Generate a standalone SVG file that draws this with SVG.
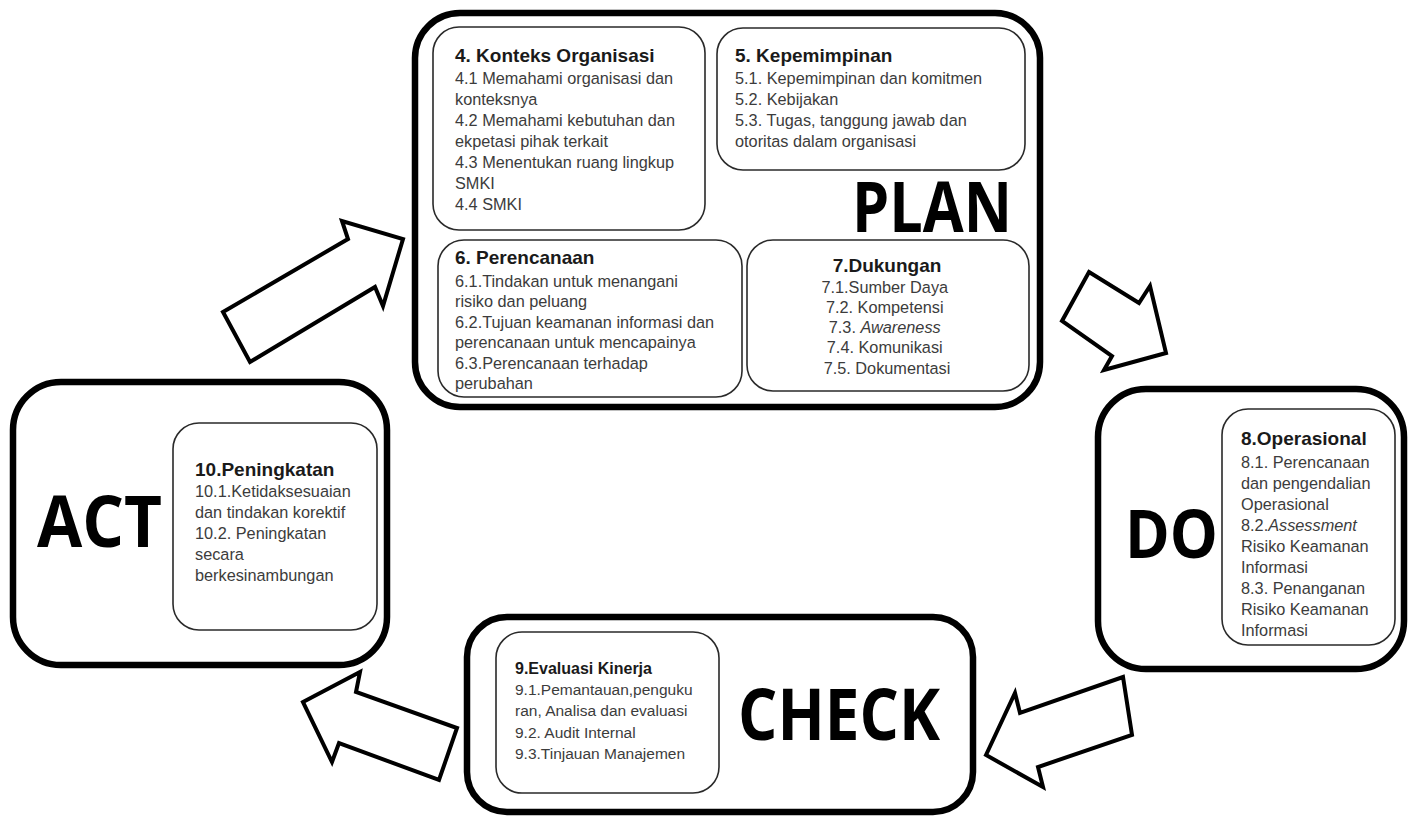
<svg xmlns="http://www.w3.org/2000/svg" width="1411" height="816" viewBox="0 0 1411 816">
  <style>
    .outer { fill: #ffffff; stroke: #000000; stroke-width: 6.5; }
    .inner { fill: #ffffff; stroke: #2a2a2a; stroke-width: 1.6; }
    .arrow { fill: #ffffff; stroke: #000000; stroke-width: 4; stroke-linejoin: miter; }
    .big { font-family: "Open Sans", "Liberation Sans", sans-serif; font-weight: 700; fill: #000000; }
    .title { font-family: "Liberation Sans", Arial, sans-serif; font-weight: 700; font-size: 19px; fill: #1a1a1a; }
    .body { font-family: "Liberation Sans", Arial, sans-serif; font-size: 16.3px; fill: #3c3c3c; }
    .small { font-size: 15.5px; }
    .smalltitle { font-size: 16px; }
    .it { font-style: italic; }
  </style>

  <rect width="1411" height="816" fill="#ffffff"/>

  <!-- cycle arrows -->
  <g id="connectors">
    <polygon class="arrow" points="223,312 348,239 342,221 403,239 383,306 375,287 250,362"/>
    <polygon class="arrow" points="1089,272 1139,303 1150,286 1166,353 1104,370 1112,356 1062,321"/>
    <polygon class="arrow" points="986,755 1015,693 1020,713 1123,677 1132,735 1038,767 1043,787"/>
    <polygon class="arrow" points="303,702 360,672 356,692 457,728 439,780 339,743 332,762"/>
  </g>

  <!-- PLAN -->
  <g id="plan">
    <rect class="outer" x="415" y="13" width="625" height="394" rx="45" ry="45"/>
    <text class="big" x="852" y="232" font-size="70" textLength="160" lengthAdjust="spacingAndGlyphs">PLAN</text>
  </g>

  <g id="konteks-organisasi">
    <rect class="inner" x="433" y="27" width="272" height="203" rx="26" ry="26"/>
    <text class="title" x="455" y="62" font-size="19.5">4. Konteks Organisasi</text>
    <text class="body">
      <tspan x="455" y="84">4.1 Memahami organisasi dan</tspan>
      <tspan x="455" y="105">konteksnya</tspan>
      <tspan x="455" y="126">4.2 Memahami kebutuhan dan</tspan>
      <tspan x="455" y="147">ekpetasi pihak terkait</tspan>
      <tspan x="455" y="168">4.3 Menentukan ruang lingkup</tspan>
      <tspan x="455" y="189">SMKI</tspan>
      <tspan x="455" y="210">4.4 SMKI</tspan>
    </text>
  </g>

  <g id="kepemimpinan">
    <rect class="inner" x="717" y="28" width="308" height="142" rx="26" ry="26"/>
    <text class="title" x="735" y="62" font-size="19.5">5. Kepemimpinan</text>
    <text class="body">
      <tspan x="735" y="84">5.1. Kepemimpinan dan komitmen</tspan>
      <tspan x="735" y="105">5.2. Kebijakan</tspan>
      <tspan x="735" y="126">5.3. Tugas, tanggung jawab dan</tspan>
      <tspan x="735" y="147">otoritas dalam organisasi</tspan>
    </text>
  </g>

  <g id="perencanaan">
    <rect class="inner" x="438" y="240" width="304" height="157" rx="26" ry="26"/>
    <text class="title" x="455" y="264">6. Perencanaan</text>
    <text class="body">
      <tspan x="455" y="287">6.1.Tindakan untuk menangani</tspan>
      <tspan x="455" y="307">risiko dan peluang</tspan>
      <tspan x="455" y="328">6.2.Tujuan keamanan informasi dan</tspan>
      <tspan x="455" y="348">perencanaan untuk mencapainya</tspan>
      <tspan x="455" y="369">6.3.Perencanaan terhadap</tspan>
      <tspan x="455" y="389">perubahan</tspan>
    </text>
  </g>

  <g id="dukungan">
    <rect class="inner" x="747" y="240" width="282" height="151" rx="26" ry="26"/>
    <text class="title" x="887" y="272" text-anchor="middle">7.Dukungan</text>
    <text class="body" text-anchor="middle">
      <tspan x="887" y="293">7.1.Sumber Daya</tspan>
      <tspan x="887" y="313">7.2. Kompetensi</tspan>
      <tspan x="887" y="333">7.3. <tspan class="it">Awareness</tspan></tspan>
      <tspan x="887" y="353">7.4. Komunikasi</tspan>
      <tspan x="887" y="374">7.5. Dokumentasi</tspan>
    </text>
  </g>

  <!-- DO -->
  <g id="do">
    <rect class="outer" x="1098" y="389" width="306" height="280" rx="48" ry="48"/>
    <text class="big" x="1125" y="558" font-size="66" textLength="93" lengthAdjust="spacingAndGlyphs">DO</text>
  </g>

  <g id="operasional">
    <rect class="inner" x="1222" y="409" width="173" height="236" rx="26" ry="26"/>
    <text class="title" x="1241" y="445">8.Operasional</text>
    <text class="body">
      <tspan x="1241" y="468">8.1. Perencanaan</tspan>
      <tspan x="1241" y="489">dan pengendalian</tspan>
      <tspan x="1241" y="510">Operasional</tspan>
      <tspan x="1241" y="531">8.2.<tspan class="it">Assessment</tspan></tspan>
      <tspan x="1241" y="552">Risiko Keamanan</tspan>
      <tspan x="1241" y="573">Informasi</tspan>
      <tspan x="1241" y="594">8.3. Penanganan</tspan>
      <tspan x="1241" y="615">Risiko Keamanan</tspan>
      <tspan x="1241" y="636">Informasi</tspan>
    </text>
  </g>

  <!-- CHECK -->
  <g id="check">
    <rect class="outer" x="467" y="617" width="506" height="195" rx="40" ry="40"/>
    <text class="big" x="738" y="740" font-size="72" textLength="202" lengthAdjust="spacingAndGlyphs">CHECK</text>
  </g>

  <g id="evaluasi-kinerja">
    <rect class="inner" x="496" y="632" width="223" height="161" rx="26" ry="26"/>
    <text class="title smalltitle" x="515" y="674">9.Evaluasi Kinerja</text>
    <text class="body small">
      <tspan x="515" y="695">9.1.Pemantauan,penguku</tspan>
      <tspan x="515" y="716">ran, Analisa dan evaluasi</tspan>
      <tspan x="515" y="738">9.2. Audit Internal</tspan>
      <tspan x="515" y="759">9.3.Tinjauan Manajemen</tspan>
    </text>
  </g>

  <!-- ACT -->
  <g id="act">
    <rect class="outer" x="13" y="382" width="374" height="283" rx="48" ry="48"/>
    <text class="big" x="37" y="547" font-size="72" textLength="125" lengthAdjust="spacingAndGlyphs">ACT</text>
  </g>

  <g id="peningkatan">
    <rect class="inner" x="173" y="423" width="204" height="207" rx="26" ry="26"/>
    <text class="title" x="195" y="476">10.Peningkatan</text>
    <text class="body">
      <tspan x="195" y="497">10.1.Ketidaksesuaian</tspan>
      <tspan x="195" y="518">dan tindakan korektif</tspan>
      <tspan x="195" y="539">10.2. Peningkatan</tspan>
      <tspan x="195" y="560">secara</tspan>
      <tspan x="195" y="581">berkesinambungan</tspan>
    </text>
  </g>
</svg>
